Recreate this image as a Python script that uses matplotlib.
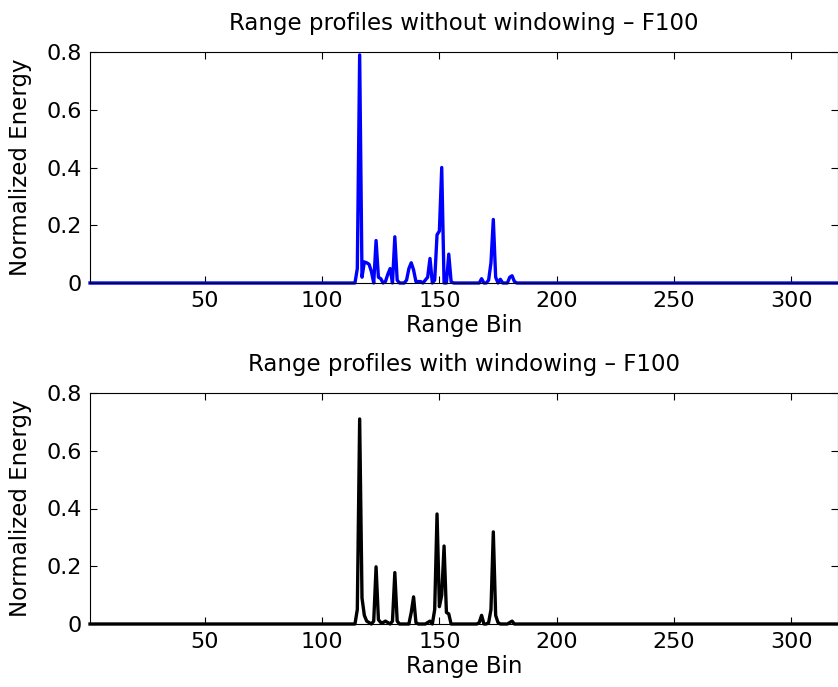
import matplotlib
matplotlib.use("Agg")
import matplotlib.pyplot as plt
import numpy as np

# range bins 1..320, only non-zero bins listed
N_BINS = 320

top_bins = [115, 116, 117, 118, 119, 120, 121, 122, 123, 124, 125, 126, 127, 128, 129, 130,
            131, 132, 136, 137, 138, 139, 140, 141, 142, 144, 145, 146, 147, 148, 149, 150,
            151, 152, 154, 155, 168, 171, 172, 173, 174, 176, 180, 181, 182]
top_vals = [0.05, 0.79, 0.02, 0.073, 0.07, 0.065, 0.04, 0.0, 0.147, 0.02, 0.015, 0.0, 0.005, 0.03, 0.05, 0.0,
            0.16, 0.01, 0.01, 0.05, 0.07, 0.045, 0.005, 0.005, 0.005, 0.01, 0.02, 0.085, 0.0, 0.01, 0.167, 0.18,
            0.40, 0.0, 0.1, 0.005, 0.015, 0.01, 0.07, 0.22, 0.02, 0.013, 0.02, 0.025, 0.005]

bot_bins = [115, 116, 117, 118, 119, 120, 122, 123, 124, 125, 126, 127, 128, 130, 131, 132,
            138, 139, 140, 145, 146, 148, 149, 150, 151, 152, 153, 154, 167, 168, 171, 172,
            173, 174, 175, 180, 181]
bot_vals = [0.05, 0.71, 0.09, 0.03, 0.01, 0.005, 0.01, 0.198, 0.015, 0.005, 0.005, 0.01, 0.005, 0.01, 0.178, 0.01,
            0.04, 0.094, 0.005, 0.005, 0.01, 0.05, 0.381, 0.06, 0.10, 0.27, 0.04, 0.035, 0.005, 0.03, 0.005, 0.05,
            0.319, 0.03, 0.005, 0.005, 0.01]

titles = ["Range profiles without windowing \u2013 F100", "Range profiles with windowing \u2013 F100"]
xticks = [50, 100, 150, 200, 250, 300]
yticks = [0, 0.2, 0.4, 0.6, 0.8]

plt.rcParams['font.family'] = ['DejaVu Sans']
FS = 16.5

def profile(bins, vals):
	y = np.zeros(N_BINS)
	for b, v in zip(bins, vals):
		y[b - 1] = v
	return y
# end

x = np.arange(1, N_BINS + 1)
fig = plt.figure(figsize=(8.38, 6.87), dpi=100)
left = 90 / 838
w = 1.0 - left
h = 231 / 687
ax1 = fig.add_axes([left, (687 - 283) / 687, w, h])
ax2 = fig.add_axes([left, (687 - 624) / 687, w, h])

for ax, bins, vals, col, t in [(ax1, top_bins, top_vals, "#0000ff", titles[0]),
                               (ax2, bot_bins, bot_vals, "black", titles[1])]:
	ax.plot(x, profile(bins, vals), color=col, lw=2.4, clip_on=False)
	ax.set_xlim(1, 320)
	ax.set_ylim(0, 0.8)
	ax.set_xticks(xticks)
	ax.set_yticks(yticks)
	ax.set_yticklabels(["0", "0.2", "0.4", "0.6", "0.8"])
	ax.tick_params(direction="in", top=True, right=True, labelsize=16, length=5, pad=6)
	ax.set_xlabel("Range Bin", fontsize=FS, labelpad=2)
	ax.set_ylabel("Normalized Energy", fontsize=FS, labelpad=10)
	ax.set_title(t, fontsize=FS, pad=16)
# end

plt.savefig("out.png", dpi=100)
